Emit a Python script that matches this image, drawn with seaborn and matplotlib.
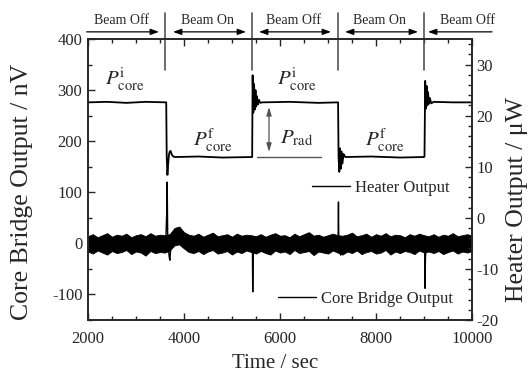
import numpy as np
import pandas as pd
import seaborn as sns
import matplotlib.pyplot as plt
from matplotlib.lines import Line2D
from matplotlib.ticker import MultipleLocator

sns.set_style("ticks")
plt.rcParams['font.family'] = ['Liberation Serif', 'DejaVu Serif']
plt.rcParams['mathtext.fontset'] = 'stix'
plt.rcParams['axes.unicode_minus'] = False

# heater output (uW), key points
heater_t = [2000, 2400, 2800, 3200, 3630, 3640, 3655, 3670, 3685, 3700, 3720, 3745, 3775, 3820,
            4300, 4800, 5420, 5430, 5445, 5460, 5475, 5490, 5505, 5520, 5540, 5560, 5590, 5630,
            6200, 6800, 7210, 7220, 7235, 7250, 7265, 7280, 7300, 7325, 7360,
            7900, 8500, 9000, 9010, 9025, 9040, 9055, 9070, 9085, 9100, 9120, 9150, 9200,
            9600, 10000]
heater_v = [22.6, 22.7, 22.5, 22.7, 22.6, 12.0, 8.4, 10.5, 12.2, 12.9, 13.1, 12.4, 12.0, 11.9,
            12.0, 11.8, 11.9, 27.9, 20.6, 26.2, 21.2, 25.0, 21.8, 23.8, 22.2, 23.1, 22.5, 22.6,
            22.7, 22.5, 22.6, 12.0, 9.0, 13.6, 9.6, 13.0, 10.6, 12.5, 11.9,
            12.0, 11.8, 11.9, 12.0, 26.8, 21.4, 25.8, 22.0, 24.6, 22.3, 23.5, 22.4, 22.7,
            22.6, 22.6]

# core bridge output (nV): noise band envelope every 100 s
core_t = np.arange(2000, 10001, 100)
core_hi = [14, 18, 12, 16, 20, 13, 17, 15, 19, 12, 16, 18, 14, 20, 15, 17,
           16,
           18, 30, 33, 22, 17,
           15, 19, 13, 17, 21, 14, 16, 18, 13, 19, 15, 17,
           16, 14,
           18, 13, 17, 20, 15, 16, 12, 19, 14, 18, 22, 15, 17, 13, 16, 19,
           16, 15,
           17, 21, 14, 16, 19, 13, 18, 15, 20, 14, 17, 16, 12, 18, 15, 19,
           16, 14,
           18, 13, 17, 15, 20, 14, 16, 18, 15]
core_lo = [-16, -20, -14, -18, -22, -15, -19, -17, -13, -21, -16, -18, -24, -15, -19, -17,
           -18,
           -14, -4, -2, -10, -17,
           -19, -15, -21, -16, -13, -20, -18, -15, -22, -16, -19, -14,
           -17, -20,
           -15, -19, -22, -14, -18, -16, -21, -13, -19, -17, -15, -23, -16, -18, -20, -14,
           -18, -22,
           -16, -19, -14, -21, -17, -15, -20, -18, -13, -22, -16, -19, -15, -17, -21, -14,
           -18, -16,
           -19, -15, -21, -17, -14, -20, -16, -18, -15]

# core bridge transients at beam switching
spike1_t = [3620, 3640, 3650, 3660, 3675, 3690, 3705, 3720, 3740]
spike1_v = [0, 60, 120, 20, -10, -25, -33, -15, 0]
spike2_t = [5410, 5425, 5432, 5440, 5450, 5470]
spike2_v = [0, -10, -95, -30, -10, 0]
spike3_t = [7200, 7212, 7218, 7224, 7240, 7262, 7275, 7290]
spike3_v = [0, 20, 81, 10, -5, -23, -5, 0]
spike4_t = [9005, 9015, 9022, 9030, 9045, 9060]
spike4_v = [0, -10, -88, -30, -5, 0]

# beam state labels and switching times
beam_labels = ['Beam Off', 'Beam On', 'Beam Off', 'Beam On', 'Beam Off']
beam_centers = [2702, 4500, 6271, 8083, 9896]
beam_switch = [3604, 5423, 7202, 9000]

spikes = pd.concat([
    pd.DataFrame({'t': t, 'v': v, 'event': k})
    for k, (t, v) in enumerate([(spike1_t, spike1_v), (spike2_t, spike2_v),
                                (spike3_t, spike3_v), (spike4_t, spike4_v)])
])

fig = plt.figure(figsize=(5.31, 3.74), dpi=100)
ax1 = fig.add_axes([0.1657, 0.1444, 0.7232, 0.7513])
ax2 = ax1.twinx()

# core bridge trace
ax1.fill_between(core_t, core_lo, core_hi, color='black', lw=0.6)
sns.lineplot(data=spikes, x='t', y='v', units='event', estimator=None, sort=False,
             color='black', lw=1.0, ax=ax1)

# heater trace
sns.lineplot(x=heater_t, y=heater_v, estimator=None, sort=False, color='black', lw=1.3, ax=ax2)

ax1.set_xlim(2000, 10000)
ax1.set_ylim(-150, 400)
ax2.set_ylim(-20, 35)

ax1.xaxis.set_major_locator(MultipleLocator(2000))
ax1.xaxis.set_minor_locator(MultipleLocator(500))
ax1.yaxis.set_major_locator(MultipleLocator(100))
ax1.yaxis.set_minor_locator(MultipleLocator(50))
ax2.yaxis.set_major_locator(MultipleLocator(10))
ax2.yaxis.set_minor_locator(MultipleLocator(2))
ax1.set_yticks([-100, 0, 100, 200, 300, 400])
ax2.set_yticks([-20, -10, 0, 10, 20, 30])

ax1.tick_params(which='both', direction='in', top=True, right=False, labelsize=12, width=1)
ax1.tick_params(axis='x', which='both', pad=8)
ax1.tick_params(axis='y', pad=4)
ax1.tick_params(which='major', length=5)
ax1.tick_params(which='minor', length=3)
ax2.tick_params(which='both', direction='in', labelsize=12, width=1, pad=3)
ax2.tick_params(which='major', length=5)
ax2.tick_params(which='minor', length=3)
for ax in (ax1, ax2):
    for s in ax.spines.values():
        s.set_linewidth(1.2)

ax1.set_xlabel('Time / sec', fontsize=15)
ax1.set_ylabel('Core Bridge Output / nV', fontsize=18.5)
ax2.set_ylabel('Heater Output / \u03bcW', fontsize=18.5)
ax1.xaxis.set_label_coords(0.487, -0.122)
ax1.yaxis.set_label_coords(-0.143, 0.455)
ax2.yaxis.set_label_coords(1.088, 0.43)

# beam on/off bar above the plot
gray = '#555555'
for x in beam_switch:
    ax1.plot([x, x], [451, 339], color=gray, lw=1.2, clip_on=False)
arrow_spans = [(1973, 3479, '-|>'), (3771, 5292, '<|-|>'), (5563, 7063, '<|-|>'),
               (7354, 8875, '<|-|>'), (9083, 10417, '<|-')]
for x1, x2, style in arrow_spans:
    ax1.annotate('', xy=(x2, 414), xytext=(x1, 414), annotation_clip=False,
                 arrowprops=dict(arrowstyle=style + ',head_length=0.5,head_width=0.18',
                                 color='black', lw=0.9, shrinkA=0, shrinkB=0))
for label, x in zip(beam_labels, beam_centers):
    ax1.text(x, 437, label, ha='center', va='center', fontsize=10, clip_on=False)

# power annotations
ax1.text(2771, 320, r'$P^{\mathrm{i}}_{\mathrm{core}}$', ha='center', va='center', fontsize=15)
ax1.text(6354, 320, r'$P^{\mathrm{i}}_{\mathrm{core}}$', ha='center', va='center', fontsize=15)
ax1.text(4604, 202, r'$P^{\mathrm{f}}_{\mathrm{core}}$', ha='center', va='center', fontsize=15)
ax1.text(8188, 202, r'$P^{\mathrm{f}}_{\mathrm{core}}$', ha='center', va='center', fontsize=15)
ax1.text(6354, 206, r'$P_{\mathrm{rad}}$', ha='center', va='center', fontsize=15)
ax1.annotate('', xy=(5771, 179), xytext=(5771, 267),
             arrowprops=dict(arrowstyle='<|-|>,head_length=0.5,head_width=0.15',
                             color=gray, lw=0.9, shrinkA=0, shrinkB=0))
ax1.plot([5527, 6847], [169, 169], color=gray, lw=1.0)

# legends
ax2.legend(handles=[Line2D([], [], color='black', lw=1)], labels=['Heater Output'],
           loc='center left', bbox_to_anchor=(0.5826, 0.47), frameon=False, fontsize=12,
           handlelength=2.3, handletextpad=0.3, borderpad=0, borderaxespad=0)
ax1.legend(handles=[Line2D([], [], color='black', lw=1)], labels=['Core Bridge Output'],
           loc='center left', bbox_to_anchor=(0.4948, 0.075), frameon=False, fontsize=12,
           handlelength=2.3, handletextpad=0.3, borderpad=0, borderaxespad=0)

fig.savefig('out.png', dpi=100)
plt.close()
